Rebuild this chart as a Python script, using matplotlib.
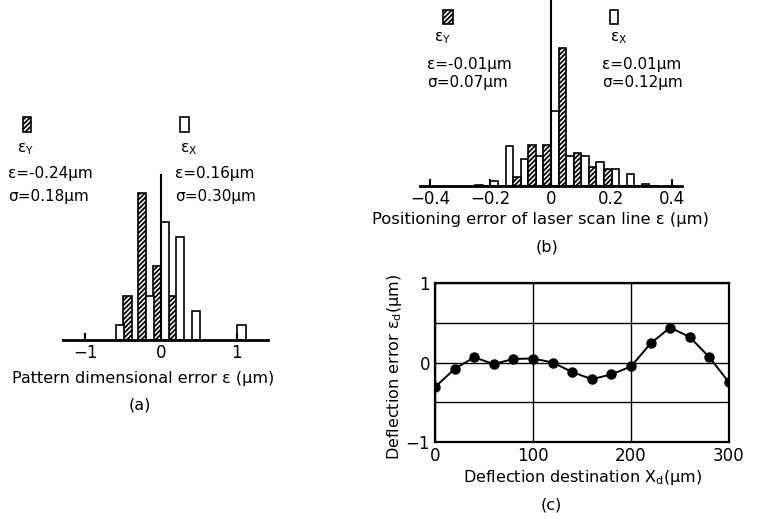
import matplotlib
matplotlib.use("Agg")
import matplotlib.pyplot as plt
import numpy as np
from matplotlib.patches import Rectangle

W, H = 775, 519

# ── (a) pattern dimensional error histogram (counts) ──
a_ey_x = [-0.44, -0.25, -0.05, 0.16]
a_ey_n = [3, 10, 5, 3]
a_ex_x = [-0.54, -0.145, 0.055, 0.25, 0.46, 1.06]
a_ex_n = [1, 3, 8, 7, 2, 1]

# ── (b) laser scan line positioning error histogram ──
b_bins = [-0.25, -0.20, -0.15, -0.10, -0.05, 0.0, 0.05, 0.10, 0.15, 0.20, 0.25, 0.30]
b_ex_n = [0.25, 1.1, 8.7, 5.9, 6.5, 16.3, 6.5, 6.5, 5.2, 3.8, 2.5, 0.35]
b_ey_n = [0, 0, 2.0, 8.9, 8.9, 30.0, 7.2, 4.1, 3.8, 0, 0, 0]

# ── (c) deflection error vs destination ──
c_x = [0, 20, 40, 60, 80, 100, 120, 140, 160, 180, 200, 220, 240, 260, 280, 300]
c_y = [-0.31, -0.08, 0.065, -0.02, 0.045, 0.05, 0.0, -0.12, -0.21, -0.15,
       -0.05, 0.24, 0.44, 0.32, 0.065, -0.25]

plt.rcParams["font.family"] = ["DejaVu Sans"]
plt.rcParams["hatch.linewidth"] = 1.3
FS = 11
HATCH = "///////"

fig = plt.figure(figsize=(W / 100, H / 100), dpi=100)


def fx(x):
    return x / W


def fy(y):
    return 1 - y / H


def ftext(x, y, s, **kw):
    kw.setdefault("fontsize", FS)
    kw.setdefault("va", "center")
    fig.text(fx(x), fy(y), s, **kw)


def fpatch(x0, y0, x1, y1, hatched):
    fig.add_artist(Rectangle((fx(x0), fy(y1)), fx(x1) - fx(x0), fy(y0) - fy(y1),
                             transform=fig.transFigure, facecolor="white",
                             edgecolor="black", lw=1.2,
                             hatch=HATCH if hatched else None))


def hist_axes(ax):
    for s in ["left", "top", "right"]:
        ax.spines[s].set_visible(False)
    ax.spines["bottom"].set_linewidth(2)
    ax.set_yticks([])
    ax.tick_params(axis="x", direction="in", length=5, width=1.5,
                   labelsize=FS + 1, pad=3)


# ── Panel (a) ─────────────────────────────
ax_a = fig.add_axes([fx(63), fy(340), fx(268) - fx(63), (340 - 170) / H])
hist_axes(ax_a)
ax_a.bar(a_ey_x, a_ey_n, width=0.11, facecolor="white", edgecolor="black",
         lw=1.2, hatch=HATCH)
ax_a.bar(a_ex_x, a_ex_n, width=0.11, facecolor="white", edgecolor="black", lw=1.2)
ax_a.vlines(0, 0, 11.3, color="black", lw=1.5)
ax_a.set_xlim(-1.29, 1.41)
ax_a.set_ylim(0, 11.56)
ax_a.set_xticks([-1, 0, 1])
ax_a.set_xticklabels(["\u22121", "0", "1"])

fpatch(23, 117, 31, 132, True)
ftext(17, 149, "ε$_\\mathregular{Y}$")
ftext(8, 174, "ε=-0.24μm")
ftext(8, 197, "σ=0.18μm")
fpatch(180, 117, 189, 132, False)
ftext(180, 149, "ε$_\\mathregular{X}$")
ftext(175, 174, "ε=0.16μm")
ftext(175, 197, "σ=0.30μm")
ftext(143, 378, "Pattern dimensional error ε (μm)", ha="center", fontsize=FS + 0.5)
ftext(140, 405, "(a)", ha="center", fontsize=FS + 0.5)

# ── Panel (b) ─────────────────────────────
ax_b = fig.add_axes([fx(420), fy(186), fx(682) - fx(420), 186 / H])
hist_axes(ax_b)
ax_b.bar(b_bins, b_ex_n, width=0.025, align="edge", facecolor="white",
         edgecolor="black", lw=1.2)
ax_b.bar(np.array(b_bins) + 0.025, b_ey_n, width=0.025, align="edge",
         facecolor="white", edgecolor="black", lw=1.2, hatch=HATCH)
ax_b.vlines(0, 0, 40.5, color="black", lw=1.5)
ax_b.set_xlim(-0.433, 0.433)
ax_b.set_ylim(0, 40.4)
ax_b.set_xticks([-0.4, -0.2, 0, 0.2, 0.4])
ax_b.set_xticklabels(["\u22120.4", "\u22120.2", "0", "0.2", "0.4"])

fpatch(443, 10, 453, 24, True)
ftext(434, 38, "ε$_\\mathregular{Y}$")
ftext(427, 64, "ε=-0.01μm")
ftext(427, 83, "σ=0.07μm")
fpatch(610, 10, 618, 24, False)
ftext(610, 38, "ε$_\\mathregular{X}$")
ftext(602, 64, "ε=0.01μm")
ftext(602, 83, "σ=0.12μm")
ftext(541, 219, "Positioning error of laser scan line ε (μm)", ha="center",
      fontsize=FS + 0.8)
ftext(547, 247, "(b)", ha="center", fontsize=FS + 0.5)

# ── Panel (c) ─────────────────────────────
ax_c = fig.add_axes([fx(435), fy(442), fx(729) - fx(435), 159 / H])
ax_c.plot(c_x, c_y, "-o", color="black", lw=1.4, markersize=6.5)
ax_c.set_xlim(0, 300)
ax_c.set_ylim(-1, 1)
ax_c.set_xticks([0, 100, 200, 300])
ax_c.set_yticks([-1, 0, 1])
ax_c.set_yticklabels(["\u22121", "0", "1"])
ax_c.set_yticks([-0.5, 0.5], minor=True)
ax_c.grid(True, which="both", color="black", lw=1.0)
ax_c.tick_params(which="both", direction="in", length=0, labelsize=FS + 1)
for s in ax_c.spines.values():
    s.set_linewidth(1.6)
ax_c.set_axisbelow(True)
ax_c.set_xlabel("Deflection destination X$_\\mathregular{d}$(μm)", fontsize=FS + 0.5,
                labelpad=2)
ax_c.set_ylabel("Deflection error ε$_\\mathregular{d}$(μm)", fontsize=FS + 0.5)
ax_c.yaxis.set_label_coords((404 - 435) / 294, 0.47)
ftext(551, 505, "(c)", ha="center", fontsize=FS + 0.5)

fig.savefig("out.png", dpi=100)
